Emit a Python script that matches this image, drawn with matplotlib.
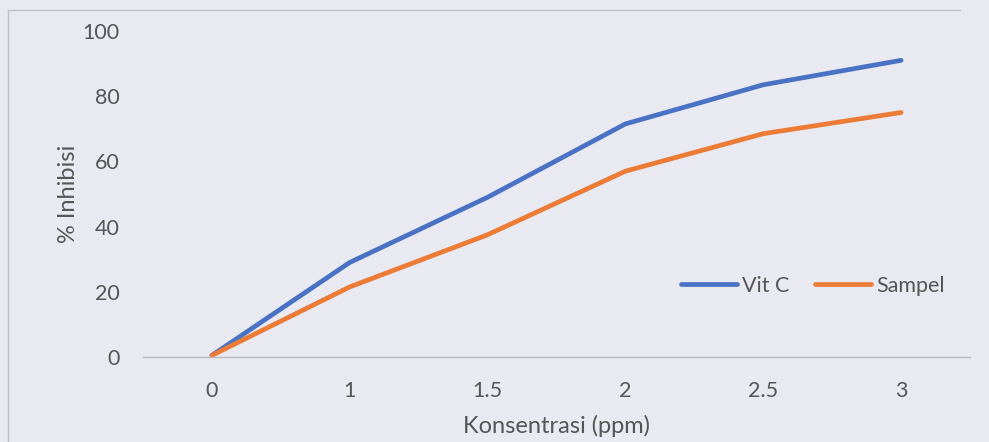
import numpy as np
import matplotlib.pyplot as plt
from matplotlib.lines import Line2D

plt.rcParams['font.family'] = ['Lato', 'DejaVu Sans']

# data
konsentrasi = ['0', '1', '1.5', '2', '2.5', '3']
vit_c = [0.5, 29, 49, 71.5, 83.5, 91]
sampel = [0.5, 21.5, 37.5, 57, 68.5, 75]

bg = '#e8e9f1'
txt = '#555555'

fig = plt.figure(figsize=(9.89, 4.42), dpi=100, facecolor=bg)
ax = fig.add_axes([143 / 989, 85 / 442, 827 / 989, 326 / 442], facecolor=bg)

x = np.arange(len(konsentrasi))
ax.plot(x, vit_c, color='#4a72c4', lw=3.4, label='Vit C', solid_capstyle='round')
ax.plot(x, sampel, color='#ec7b35', lw=3.4, label='Sampel', solid_capstyle='round')

ax.set_xlim(-0.5, len(konsentrasi) - 0.5)
ax.set_ylim(0, 100)
ax.set_xticks(x)
ax.set_xticklabels(konsentrasi)
ax.set_yticks(np.arange(0, 101, 20))

for s in ['top', 'right', 'left']:
    ax.spines[s].set_visible(False)
ax.spines['bottom'].set_color('#b8b8c0')
ax.spines['bottom'].set_linewidth(1)
ax.tick_params(axis='both', length=0, labelsize=15.5, labelcolor=txt)
ax.tick_params(axis='y', pad=17)
ax.tick_params(axis='x', pad=17)

ax.set_xlabel('Konsentrasi (ppm)', fontsize=17, color=txt, labelpad=10)
ax.set_ylabel('% Inhibisi', fontsize=17, color=txt, labelpad=2)

ax.legend(loc='center', bbox_to_anchor=(0.81, 0.218), ncol=2, frameon=False,
          fontsize=15.5, labelcolor=txt, handlelength=2.6, handletextpad=0.25,
          columnspacing=1.2)

# chart frame (top and left edges visible in the scan)
fig.add_artist(Line2D([8 / 989, 960 / 989], [1 - 10 / 442, 1 - 10 / 442],
                      transform=fig.transFigure, color='#c0c0c8', lw=1))
fig.add_artist(Line2D([8 / 989, 8 / 989], [0, 1 - 10 / 442],
                      transform=fig.transFigure, color='#c0c0c8', lw=1))

fig.savefig('out.png', dpi=100, facecolor=bg)
